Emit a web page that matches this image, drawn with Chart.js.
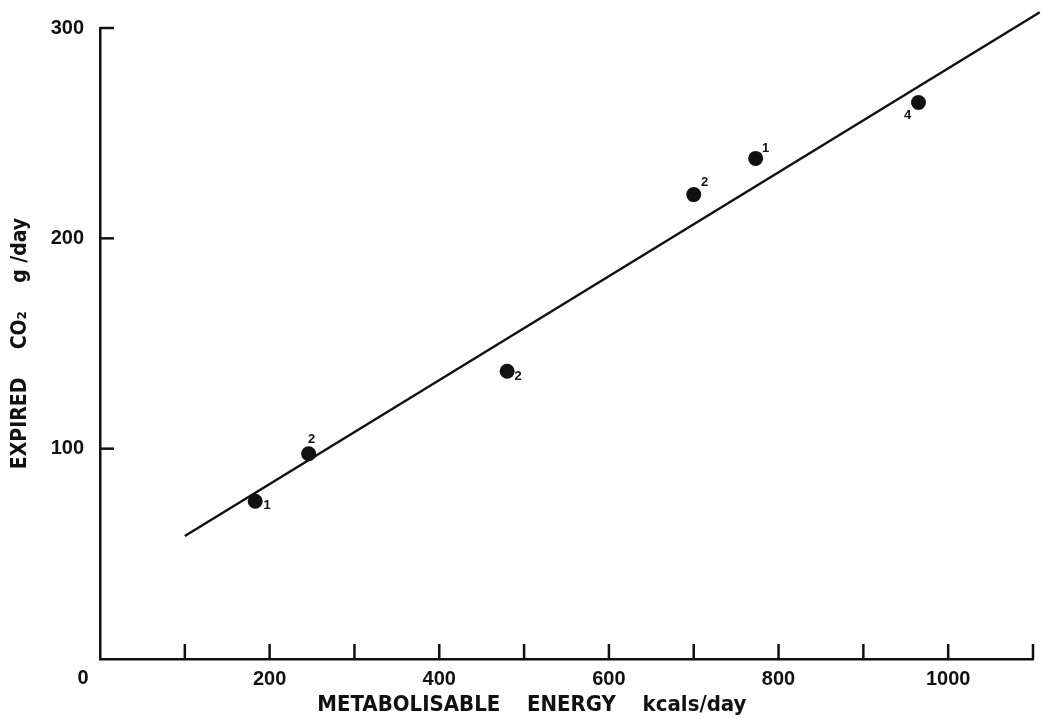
<!DOCTYPE html>
<html>
<head>
<meta charset="utf-8">
<script src="https://cdn.jsdelivr.net/npm/chart.js@4"></script>
<style>
  html, body { margin: 0; padding: 0; background: #ffffff; }
  #wrap { width: 1042px; height: 719px; }
</style>
</head>
<body>
<div id="wrap"><canvas id="c" width="1042" height="719"></canvas></div>
<script>
// Observed points: metabolisable energy (kcals/day) vs expired CO2 (g/day)
const energy = [183, 246, 480, 700, 773, 965];
const co2 = [75, 97.6, 136.8, 220.8, 238, 264.6];
const pointNotes = ['1', '2', '2', '2', '1', '4'];
// Fitted regression line end points
const fitEnergy = [100, 1108];
const fitCo2 = [58.5, 307.5];
// Axis settings
const xMin = 0, xMax = 1100, xStep = 100;
const yMin = 0, yMax = 300, yStep = 100;
const xTitle = 'METABOLISABLE\u2003 ENERGY\u2003 kcals/day\u2003\u2003\u2003\u2002';
const yTitle = 'EXPIRED\u2003\u2002CO\u2082\u2003\u2002g /day';
const originLabel = '0';

// label placement offsets (style only)
const noteOffsets = [[12, 4], [3, -14], [11, 5], [11, -12], [10, -10], [-11, 13]];

const INK = '#111111';
const TITLE_FONT = '"DejaVu Sans Condensed", "Liberation Sans Narrow", "Liberation Sans", sans-serif';

const scatterData = energy.map((x, i) => ({ x: x, y: co2[i] }));
const lineData = fitEnergy.map((x, i) => ({ x: x, y: fitCo2[i] }));

const decor = {
  id: 'decor',
  afterDraw(chart) {
    const ctx = chart.ctx;
    const xs = chart.scales.x, ys = chart.scales.y;
    const area = chart.chartArea;
    ctx.save();
    ctx.strokeStyle = INK;
    ctx.lineWidth = 2.5;
    // inward tick marks
    xs.ticks.forEach(t => {
      if (t.value === xMin) return;
      const px = xs.getPixelForValue(t.value);
      ctx.beginPath();
      ctx.moveTo(px, area.bottom);
      ctx.lineTo(px, area.bottom - 15);
      ctx.stroke();
    });
    ys.ticks.forEach(t => {
      if (t.value === yMin) return;
      const py = ys.getPixelForValue(t.value);
      ctx.beginPath();
      ctx.moveTo(area.left, py);
      ctx.lineTo(area.left + 14, py);
      ctx.stroke();
    });
    // origin label
    ctx.fillStyle = INK;
    ctx.font = 'bold 20px "Liberation Sans", Arial, sans-serif';
    ctx.textAlign = 'center';
    ctx.textBaseline = 'middle';
    ctx.fillText(originLabel, xs.getPixelForValue(xMin) - 17, ys.getPixelForValue(yMin) + 19);
    // point notes
    ctx.font = 'bold 13px "Liberation Sans", Arial, sans-serif';
    const meta = chart.getDatasetMeta(0);
    meta.data.forEach((el, i) => {
      const off = noteOffsets[i];
      ctx.fillText(pointNotes[i], el.x + off[0], el.y + off[1]);
    });
    ctx.restore();
  }
};

new Chart(document.getElementById('c'), {
  type: 'scatter',
  data: {
    datasets: [
      {
        type: 'scatter',
        data: scatterData,
        pointRadius: 7.5,
        pointHoverRadius: 7.5,
        pointBackgroundColor: INK,
        pointBorderColor: INK,
        pointBorderWidth: 0
      },
      {
        type: 'line',
        data: lineData,
        borderColor: INK,
        borderWidth: 2.5,
        pointRadius: 0,
        fill: false,
        clip: false
      }
    ]
  },
  options: {
    responsive: false,
    animation: false,
    events: [],
    layout: { padding: { top: 23, right: 9, left: 0, bottom: 0 } },
    plugins: { legend: { display: false }, tooltip: { enabled: false } },
    scales: {
      x: {
        type: 'linear',
        min: xMin, max: xMax,
        afterFit(scale) { scale.height = 60; },
        border: { display: true, color: INK, width: 2.5 },
        grid: { display: true, drawOnChartArea: false, drawTicks: false },
        ticks: {
          stepSize: xStep,
          color: INK,
          padding: 8,
          maxRotation: 0,
          autoSkip: false,
          font: { family: '"Liberation Sans", Arial, sans-serif', size: 20, weight: 'bold' },
          callback: (v) => (v !== 0 && v % 200 === 0) ? String(v) : ''
        },
        title: {
          display: true,
          text: xTitle,
          color: INK,
          padding: { top: 0, bottom: 1 },
          font: { family: TITLE_FONT, size: 22, weight: 'bold' }
        }
      },
      y: {
        type: 'linear',
        min: yMin, max: yMax,
        afterFit(scale) { scale.width = 100; },
        border: { display: true, color: INK, width: 2.5 },
        grid: { display: true, drawOnChartArea: false, drawTicks: false },
        ticks: {
          stepSize: yStep,
          color: INK,
          padding: 16,
          font: { family: '"Liberation Sans", Arial, sans-serif', size: 20, weight: 'bold' },
          callback: (v) => v === 0 ? '' : String(v)
        },
        title: {
          display: true,
          text: yTitle,
          color: INK,
          padding: { top: 8, bottom: 0 },
          font: { family: TITLE_FONT, size: 21, weight: 'bold' }
        }
      }
    }
  },
  plugins: [decor]
});
</script>
</body>
</html>
